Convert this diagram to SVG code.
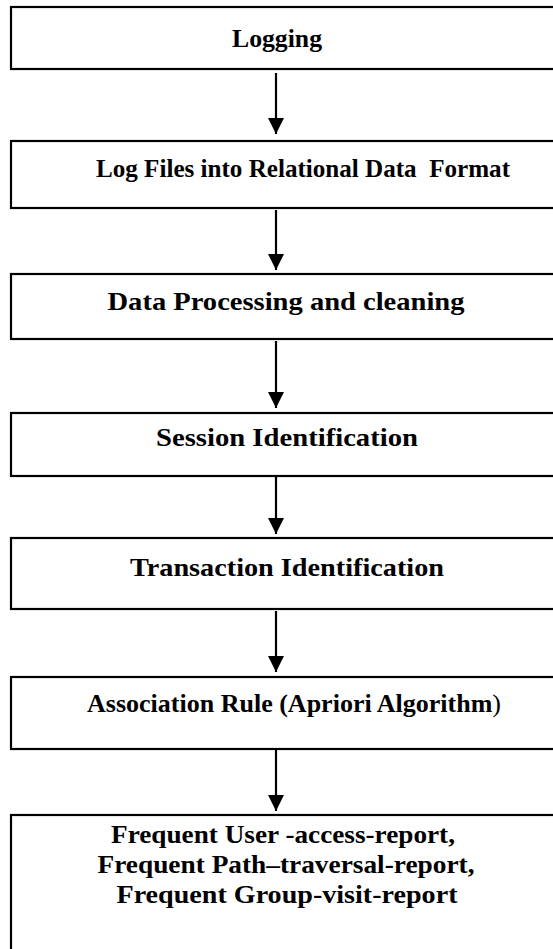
<svg xmlns="http://www.w3.org/2000/svg" width="553" height="949" viewBox="0 0 553 949">
<style>
.box{fill:#fff;stroke:#000;stroke-width:2.2}
.t{font-family:"Liberation Serif","Times New Roman",serif;font-weight:bold;font-size:25px;fill:#000;text-anchor:middle}
.c{stroke:#000;stroke-width:2.2;fill:none;marker-end:url(#ah)}
</style>
<defs>
<marker id="ah" markerUnits="userSpaceOnUse" markerWidth="16" markerHeight="16" refX="16" refY="8" orient="auto" viewBox="0 0 16 16">
<path d="M0,0 L16,8 L0,16 Z" fill="#000"/>
</marker>
</defs>
<rect width="553" height="949" fill="#fff"/>
<g id="n1"><rect class="box" x="11" y="7" width="560" height="62"/><text class="t" x="277" y="47" textLength="90" lengthAdjust="spacingAndGlyphs">Logging</text></g>
<g id="n2"><rect class="box" x="11" y="141" width="560" height="67"/><text class="t" x="303" y="177" xml:space="preserve" textLength="414" lengthAdjust="spacingAndGlyphs">Log Files into Relational Data  Format</text></g>
<g id="n3"><rect class="box" x="11" y="274" width="560" height="65"/><text class="t" x="286" y="310" textLength="357" lengthAdjust="spacingAndGlyphs">Data Processing and cleaning</text></g>
<g id="n4"><rect class="box" x="11" y="413" width="560" height="63"/><text class="t" x="287" y="446" textLength="262" lengthAdjust="spacingAndGlyphs">Session Identification</text></g>
<g id="n5"><rect class="box" x="11" y="538" width="560" height="71"/><text class="t" x="287" y="576" textLength="314" lengthAdjust="spacingAndGlyphs">Transaction Identification</text></g>
<g id="n6"><rect class="box" x="11" y="677" width="560" height="72"/><text class="t" x="294" y="712" textLength="414" lengthAdjust="spacingAndGlyphs">Association Rule (Apriori Algorithm<tspan font-weight="normal">)</tspan></text></g>
<g id="n7"><rect class="box" x="11" y="815" width="560" height="150"/>
<text class="t" x="283" y="843" textLength="344" lengthAdjust="spacingAndGlyphs">Frequent User -access-report,</text>
<text class="t" x="286" y="873" textLength="377" lengthAdjust="spacingAndGlyphs">Frequent Path–traversal-report,</text>
<text class="t" x="287" y="903" textLength="341" lengthAdjust="spacingAndGlyphs">Frequent Group-visit-report</text></g>
<g id="connectors">
<line class="c" x1="276" y1="73" x2="276" y2="134"/>
<line class="c" x1="276" y1="210" x2="276" y2="270"/>
<line class="c" x1="276" y1="341" x2="276" y2="408"/>
<line class="c" x1="276" y1="477" x2="276" y2="534"/>
<line class="c" x1="276" y1="611" x2="276" y2="672"/>
<line class="c" x1="276" y1="750" x2="276" y2="811"/>
</g>
</svg>
